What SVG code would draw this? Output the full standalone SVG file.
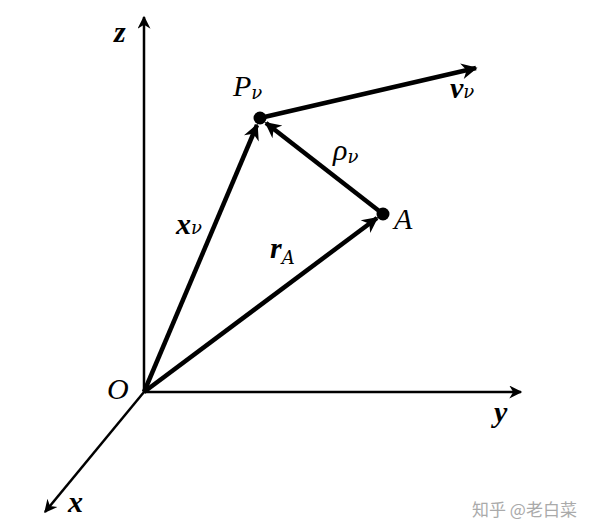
<svg xmlns="http://www.w3.org/2000/svg" width="600" height="532" viewBox="0 0 600 532">
<style>
.axis{stroke:#000;stroke-width:2.5;fill:none}
.vec{stroke:#000;stroke-width:4.5;fill:none}
.lbl{font-family:"Liberation Serif",serif;font-style:italic;font-size:30px;fill:#000}
.bold{font-weight:bold}
.sub{font-family:"DejaVu Serif",serif;font-size:18px;font-weight:normal}
.wm{font-family:"Noto Sans CJK SC",sans-serif;font-size:17px;fill:#aaa}
</style>
<defs>
<marker id="av" viewBox="0 0 10 10" refX="9" refY="5" markerWidth="22" markerHeight="16" markerUnits="userSpaceOnUse" orient="auto">
<path d="M0,0 L10,5 L0,10 L3,5 Z" fill="#000"/>
</marker>
<marker id="aa" viewBox="0 0 10 10" refX="9" refY="5" markerWidth="20" markerHeight="13" markerUnits="userSpaceOnUse" orient="auto">
<path d="M0,0 L10,5 L0,10 L3,5 Z" fill="#000"/>
</marker>
</defs>
<g id="connectors">
<line class="axis" x1="144" y1="392" x2="144" y2="17" marker-end="url(#aa)"/>
<line class="axis" x1="144" y1="392" x2="521" y2="392" marker-end="url(#aa)"/>
<line class="axis" x1="144" y1="392" x2="45" y2="512" marker-end="url(#aa)"/>
<line class="vec" x1="144" y1="392" x2="257" y2="125" marker-end="url(#av)"/>
<line class="vec" x1="144" y1="392" x2="377" y2="218" marker-end="url(#av)"/>
<line class="vec" x1="383" y1="214" x2="266" y2="123" marker-end="url(#av)"/>
<line class="vec" x1="260" y1="118" x2="476" y2="68" marker-end="url(#av)"/>
</g>
<g id="node-O"><text class="lbl" x="107" y="399">O</text></g>
<g id="node-P"><circle cx="260" cy="118" r="6.5" fill="#000"/><text class="lbl" x="233" y="96">P<tspan class="sub" dy="3">ν</tspan></text></g>
<g id="node-A"><circle cx="383" cy="214" r="6.5" fill="#000"/><text class="lbl" x="394" y="229">A</text></g>
<g id="label-z"><text class="lbl bold" x="114" y="42">z</text></g>
<g id="label-y"><text class="lbl bold" x="494" y="422">y</text></g>
<g id="label-x"><text class="lbl bold" x="68" y="512">x</text></g>
<g id="label-v"><text class="lbl bold" x="450" y="98">v<tspan class="sub" dy="0">ν</tspan></text></g>
<g id="label-rho"><text class="lbl" x="333" y="160">ρ<tspan class="sub" dy="3">ν</tspan></text></g>
<g id="label-xv"><text class="lbl bold" x="176" y="234">x<tspan class="sub" dy="0">ν</tspan></text></g>
<g id="label-rA"><text class="lbl bold" x="270" y="258">r<tspan class="sub" font-family="Liberation Serif" font-size="20" dy="6">A</tspan></text></g>
<text class="wm" x="472" y="516">知乎 @老白菜</text>
</svg>
